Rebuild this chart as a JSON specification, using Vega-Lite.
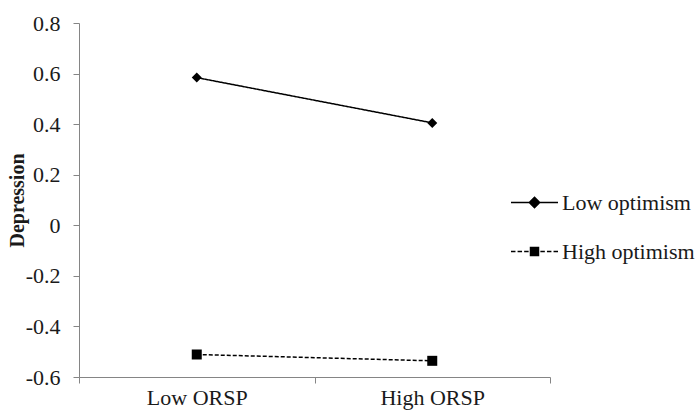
{
  "$schema": "https://vega.github.io/schema/vega-lite/v6.json",
  "autosize": "none",
  "width": 471,
  "height": 354,
  "padding": {"left": 79, "top": 23, "right": 148, "bottom": 36},
  "background": "white",
  "config": {
    "view": {"stroke": null},
    "font": "Liberation Serif",
    "axis": {
      "labelFont": "Liberation Serif",
      "titleFont": "Liberation Serif",
      "labelColor": "#1a1a1a",
      "titleColor": "#1a1a1a",
      "domainColor": "#858585",
      "tickColor": "#858585",
      "grid": false
    },
    "legend": {
      "title": null,
      "orient": "none",
      "padding": 0,
      "symbolSize": 2209,
      "labelFont": "Liberation Serif",
      "labelFontSize": 22,
      "labelColor": "#1a1a1a",
      "labelOffset": 3,
      "symbolFillColor": "black",
      "symbolStrokeColor": "black",
      "symbolStrokeWidth": 1.5
    }
  },
  "data": {
    "values": [
      {"orsp": "Low ORSP", "group": "Low optimism", "depression": 0.584},
      {"orsp": "High ORSP", "group": "Low optimism", "depression": 0.405},
      {"orsp": "Low ORSP", "group": "High optimism", "depression": -0.511},
      {"orsp": "High ORSP", "group": "High optimism", "depression": -0.536}
    ]
  },
  "encoding": {
    "x": {
      "field": "orsp",
      "type": "nominal",
      "sort": ["Low ORSP", "High ORSP"],
      "bandPosition": 0.5,
      "scale": {"type": "band", "paddingInner": 0, "paddingOuter": 0},
      "axis": {
        "title": null,
        "labelAngle": 0,
        "labelFontSize": 22,
        "labelPadding": 4,
        "tickSize": 6,
        "tickBand": "extent",
        "domainWidth": 1,
        "tickWidth": 1
      }
    },
    "y": {
      "field": "depression",
      "type": "quantitative",
      "scale": {"domain": [-0.6, 0.8], "nice": false, "zero": false},
      "axis": {
        "title": "Depression",
        "titleFontSize": 20,
        "titleFontWeight": "bold",
        "titleX": -52,
        "values": [-0.6, -0.4, -0.2, 0, 0.2, 0.4, 0.6, 0.8],
        "labelExpr": "datum.value == 0 ? '0' : (datum.value < 0 ? '-' : '') + format(abs(datum.value), '.1f')",
        "labelFontSize": 22,
        "labelPadding": 13,
        "tickSize": 6
      }
    }
  },
  "layer": [
    {
      "mark": {"type": "line", "color": "black", "strokeWidth": 1.5},
      "encoding": {
        "detail": {"field": "group"},
        "strokeDash": {
          "field": "group",
          "type": "nominal",
          "scale": {"domain": ["Low optimism", "High optimism"], "range": [[1, 0], [4, 2]]},
          "legend": null
        },
        "color": {
          "field": "group",
          "type": "nominal",
          "scale": {"range": ["black", "black"]},
          "legend": {
            "values": ["Low optimism"],
            "legendX": 431,
            "legendY": 155,
            "symbolType": "M-1,0H1M0,-0.22L0.22,0L0,0.22L-0.22,0Z"
          }
        },
        "opacity": {
          "field": "group",
          "type": "nominal",
          "sort": "descending",
          "scale": {"range": [1, 1]},
          "legend": {
            "values": ["High optimism"],
            "legendX": 431,
            "legendY": 204,
            "symbolType": "M-1,0H-0.81M-0.72,0H-0.53M-0.44,0H-0.25M0.25,0H0.44M0.53,0H0.72M0.81,0H1M-0.17,-0.17H0.17V0.17H-0.17Z"
          }
        }
      }
    },
    {
      "mark": {"type": "point", "filled": true, "color": "black", "opacity": 1, "size": 100},
      "encoding": {
        "shape": {
          "field": "group",
          "type": "nominal",
          "scale": {"domain": ["High optimism", "Low optimism"], "range": ["square", "diamond"]},
          "legend": null
        }
      }
    }
  ]
}
